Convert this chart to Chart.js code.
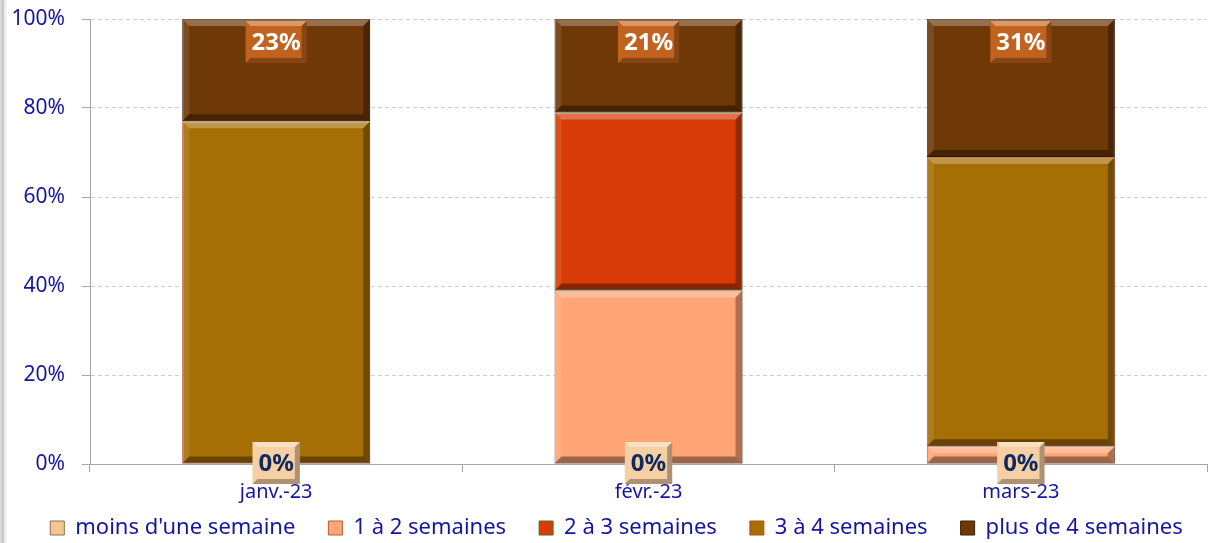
<!DOCTYPE html>
<html>
<head>
<meta charset="utf-8">
<script src="https://cdn.jsdelivr.net/npm/chart.js@4.4.0/dist/chart.umd.min.js"></script>
<style>
  html, body { margin: 0; padding: 0; background: #fff; }
  #wrap { position: relative; width: 1208px; height: 543px; }
  #edge { position: absolute; left: 0; top: 0; width: 7px; height: 543px;
          background: linear-gradient(to right, #e4e4e4, #bdbdbd 45%, #e8e8e8 60%, #f7f7f7); }
</style>
</head>
<body>
<div id="wrap">
  <canvas id="delaiChart" width="1208" height="543"></canvas>
  <div id="edge"></div>
</div>
<script>
// Data
const months = ["janv.-23", "févr.-23", "mars-23"];
const seriesNames = ["moins d'une semaine", "1 à 2 semaines", "2 à 3 semaines", "3 à 4 semaines", "plus de 4 semaines"];
const lessThanOneWeek = [0, 0, 0];
const oneToTwoWeeks = [0, 39, 4];
const twoToThreeWeeks = [0, 40, 0];
const threeToFourWeeks = [77, 0, 65];
const moreThanFourWeeks = [23, 21, 31];
const yTicks = [0, 20, 40, 60, 80, 100];

const fills = ["#f2c892", "#ffa474", "#d83b06", "#a66f06", "#6e3807"];
const borders = ["#8c6c48", "#a4613c", "#51701a", "#c4461a", "#3e1f04"];
const allSeries = [lessThanOneWeek, oneToTwoWeeks, twoToThreeWeeks, threeToFourWeeks, moreThanFourWeeks];

const blue = "#1515a3";
const fontFamily = "'Noto Sans', 'Open Sans', sans-serif";

// bevel look on every bar segment
const bevelPlugin = {
  id: "bevel",
  afterDatasetsDraw(chart) {
    const ctx = chart.ctx;
    chart.data.datasets.forEach((ds, i) => {
      const meta = chart.getDatasetMeta(i);
      meta.data.forEach((bar) => {
        const p = bar.getProps(["x", "y", "base", "width"], true);
        const l = p.x - p.width / 2, r = p.x + p.width / 2;
        const t = Math.min(p.y, p.base), bo = Math.max(p.y, p.base);
        const h = bo - t;
        if (h < 1) return;
        const b = Math.min(7, h / 2);
        const poly = (pts, color) => {
          ctx.beginPath();
          ctx.moveTo(pts[0][0], pts[0][1]);
          pts.slice(1).forEach((q) => ctx.lineTo(q[0], q[1]));
          ctx.closePath();
          ctx.fillStyle = color;
          ctx.fill();
        };
        ctx.save();
        poly([[l, t], [r, t], [r - b, t + b], [l + b, t + b]], "rgba(255,255,255,0.28)");
        poly([[l, t], [l + b, t + b], [l + b, bo - b], [l, bo]], "rgba(255,255,255,0.10)");
        poly([[r, t], [r, bo], [r - b, bo - b], [r - b, t + b]], "rgba(0,0,0,0.32)");
        poly([[l, bo], [r, bo], [r - b, bo - b], [l + b, bo - b]], "rgba(0,0,0,0.38)");
        ctx.restore();
      });
    });
  }
};

// value boxes: first series at the base, last series at the top
const labelPlugin = {
  id: "valueBoxes",
  afterDraw(chart) {
    const ctx = chart.ctx;
    const drawBox = (cx, top, text, bg, fg) => {
      ctx.save();
      ctx.font = "bold 24px " + fontFamily;
      const w = ctx.measureText(text).width + 12;
      const h = 42;
      const l = cx - w / 2;
      ctx.fillStyle = bg;
      ctx.fillRect(l, top, w, h);
      const b = 5;
      ctx.fillStyle = "rgba(255,255,255,0.35)";
      ctx.beginPath(); ctx.moveTo(l, top); ctx.lineTo(l + w, top); ctx.lineTo(l + w - b, top + b); ctx.lineTo(l + b, top + b); ctx.closePath(); ctx.fill();
      ctx.fillStyle = "rgba(0,0,0,0.30)";
      ctx.beginPath(); ctx.moveTo(l + w, top); ctx.lineTo(l + w, top + h); ctx.lineTo(l + w - b, top + h - b); ctx.lineTo(l + w - b, top + b); ctx.closePath(); ctx.fill();
      ctx.beginPath(); ctx.moveTo(l, top + h); ctx.lineTo(l + w, top + h); ctx.lineTo(l + w - b, top + h - b); ctx.lineTo(l + b, top + h - b); ctx.closePath(); ctx.fill();
      ctx.fillStyle = fg;
      ctx.textAlign = "center";
      ctx.textBaseline = "middle";
      ctx.fillText(text, cx, top + h / 2 + 1);
      ctx.restore();
    };
    const topMeta = chart.getDatasetMeta(4);
    topMeta.data.forEach((bar, j) => {
      drawBox(bar.x, bar.y + 2, moreThanFourWeeks[j] + "%", "#c2621f", "#ffffff");
    });
    const baseMeta = chart.getDatasetMeta(0);
    baseMeta.data.forEach((bar, j) => {
      drawBox(bar.x, bar.base - 22, lessThanOneWeek[j] + "%", "#f6d0a4", "#0e2a5e");
    });
  }
};

// keep the legend compact at the bottom, then move it into place
const legendHeightPlugin = {
  id: "legendHeight",
  beforeLayout(chart) {
    const lg = chart.legend;
    if (lg && !lg._fixed) {
      const fit = lg.fit;
      lg.fit = function () {
        fit.call(this);
        this.height = 39;
      };
      lg._fixed = true;
    }
  },
  afterLayout(chart) {
    const lg = chart.legend;
    if (lg) {
      lg.top = 484;
      lg.bottom = 543;
      lg.left += 13;
      lg.right += 13;
    }
  }
};

const ctx = document.getElementById("delaiChart").getContext("2d");

new Chart(ctx, {
  type: "bar",
  data: {
    labels: months,
    datasets: allSeries.map((values, i) => ({
      label: seriesNames[i],
      data: values,
      backgroundColor: fills[i],
      borderColor: borders[i],
      borderWidth: 1,
      borderSkipped: false,
      categoryPercentage: 1,
      barPercentage: 0.505,
    })),
  },
  options: {
    responsive: false,
    animation: false,
    layout: { padding: { top: 19, right: 1, left: 0, bottom: 0 } },
    scales: {
      x: {
        stacked: true,
        afterFit(scale) {
          scale.height = 40;
        },
        grid: { offset: true, drawOnChartArea: false, drawTicks: true, tickLength: 8, color: "#a6a6a6" },
        border: { color: "#a6a6a6" },
        ticks: { color: blue, font: { family: fontFamily, size: 20 }, padding: 8 },
      },
      y: {
        stacked: true,
        min: 0,
        max: 100,
        afterBuildTicks(scale) {
          scale.ticks = yTicks.map((v) => ({ value: v }));
        },
        afterFit(scale) {
          scale.width = 90;
          scale.paddingTop = 0;
          scale.paddingBottom = 0;
        },
        grid: {
          color: (c) => (c.tick.value === 0 ? "rgba(0,0,0,0)" : "#cfcfcf"),
          tickColor: "#a6a6a6",
          tickLength: 8,
        },
        border: { color: "#a6a6a6", dash: [4, 3] },
        ticks: {
          color: blue,
          font: { family: fontFamily, size: 21 },
          padding: 17,
          callback: (v) => v + "%",
        },
      },
    },
    plugins: {
      legend: {
        position: "bottom",
        labels: {
          color: blue,
          font: { family: fontFamily, size: 22 },
          boxWidth: 14,
          boxHeight: 14,
          padding: 33,
        },
      },
      tooltip: { enabled: false },
    },
  },
  plugins: [bevelPlugin, labelPlugin, legendHeightPlugin],
});
</script>
</body>
</html>
